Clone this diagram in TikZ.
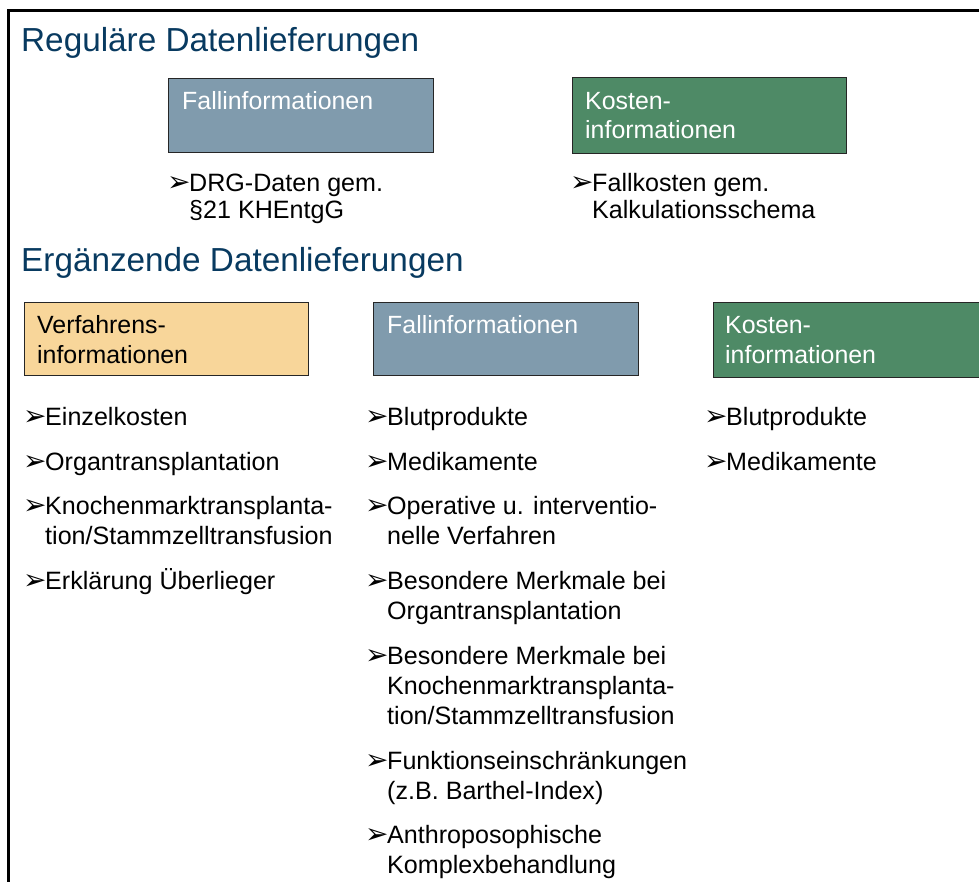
\documentclass[tikz,border=0pt]{standalone}
\usepackage{fontspec}
\setmainfont{Liberation Sans}
\newfontfamily\bulletfont{DejaVu Sans}

\definecolor{headblue}{RGB}{8,58,96}
\definecolor{fallblue}{RGB}{128,155,173}
\definecolor{kostgreen}{RGB}{78,138,102}
\definecolor{verforange}{RGB}{248,214,154}
\definecolor{boxline}{RGB}{38,38,38}

% arrowhead bullet followed by a block of lines with hanging indent
\newcommand{\arrowbullet}{\makebox[21pt][l]{\hspace*{-1pt}\bulletfont\fontsize{28}{28}\selectfont ➢}}
\newcommand{\lines}[1]{\begin{tabular}[t]{@{}l@{}}#1\end{tabular}}
\newcommand{\bulletitem}[1]{\arrowbullet\lines{#1}}

\begin{document}
\begin{tikzpicture}[x=1pt,y=-1pt,
  heading/.style={anchor=base west, inner sep=0pt, text=headblue,
    font=\fontsize{33.3}{38}\selectfont},
  catbox/.style={draw=boxline, line width=1.1pt, anchor=north west,
    inner sep=0pt},
  boxtext/.style={anchor=base west, inner sep=0pt,
    font=\fontsize{24.9}{29}\selectfont},
  listitem/.style={anchor=base west, inner sep=0pt,
    font=\fontsize{25.1}{30}\selectfont},
  toplistitem/.style={anchor=base west, inner sep=0pt,
    font=\fontsize{25.1}{27}\selectfont},
]
\useasboundingbox (0,0) rectangle (979,882);
\fill[white] (0,0) rectangle (979,882);

% outer frame (top and left edges)
\draw[line width=3pt] (990,11) -- (8,11) -- (8,890);

% ---------- Regular deliveries ----------
\node[heading] (headReg) at (21,52) {Reguläre Datenlieferungen};

\node[catbox, fill=fallblue, minimum width=265pt, minimum height=74pt]
  (regFallBox) at (168,78) {};
\node[boxtext, text=white] (regFallText) at (182,110) {Fallinformationen};

\node[catbox, fill=kostgreen, minimum width=274pt, minimum height=76pt]
  (regKostBox) at (572,77) {};
\node[boxtext, text=white] (regKostText) at (585,110) {\lines{Kosten-\\informationen}};

\node[toplistitem] (regFallItem) at (168,192)
  {\bulletitem{DRG-Daten gem.\\§21 KHEntgG}};
\node[toplistitem] (regKostItem) at (571,192)
  {\bulletitem{Fallkosten gem.\\Kalkulationsschema}};

% ---------- Supplementary deliveries ----------
\node[heading] (headErg) at (21,272) {Ergänzende Datenlieferungen};

\node[catbox, fill=verforange, minimum width=284pt, minimum height=73pt]
  (ergVerfBox) at (24,302) {};
\node[boxtext, text=black] (ergVerfText) at (37,334) {\lines{Verfahrens-\\informationen}};

\node[catbox, fill=fallblue, minimum width=265pt, minimum height=73pt]
  (ergFallBox) at (373,302) {};
\node[boxtext, text=white] (ergFallText) at (387,334) {Fallinformationen};

\node[catbox, fill=kostgreen, minimum width=280pt, minimum height=75pt]
  (ergKostBox) at (713,302) {};
\node[boxtext, text=white] (ergKostText) at (725,334) {\lines{Kosten-\\informationen}};

% column 1: procedure information
\node[listitem] (v1) at (24,425) {\bulletitem{Einzelkosten}};
\node[listitem] (v2) at (24,470) {\bulletitem{Organtransplantation}};
\node[listitem] (v3) at (24,514) {\bulletitem{Knochenmarktransplanta-\\tion/Stammzelltransfusion}};
\node[listitem] (v4) at (24,589) {\bulletitem{Erklärung Überlieger}};

% column 2: case information
\node[listitem] (f1) at (366,425) {\bulletitem{Blutprodukte}};
\node[listitem] (f2) at (366,470) {\bulletitem{Medikamente}};
\node[listitem] (f3) at (366,514) {\bulletitem{Operative u. interventio-\\nelle Verfahren}};
\node[listitem] (f4) at (366,589) {\bulletitem{Besondere Merkmale bei\\Organtransplantation}};
\node[listitem] (f5) at (366,664) {\bulletitem{Besondere Merkmale bei\\Knochenmarktransplanta-\\tion/Stammzelltransfusion}};
\node[listitem] (f6) at (366,769) {\bulletitem{Funktionseinschränkungen\\(z.B. Barthel-Index)}};
\node[listitem] (f7) at (366,843) {\bulletitem{Anthroposophische\\Komplexbehandlung}};

% column 3: cost information
\node[listitem] (k1) at (705,425) {\bulletitem{Blutprodukte}};
\node[listitem] (k2) at (705,470) {\bulletitem{Medikamente}};
\end{tikzpicture}
\end{document}
